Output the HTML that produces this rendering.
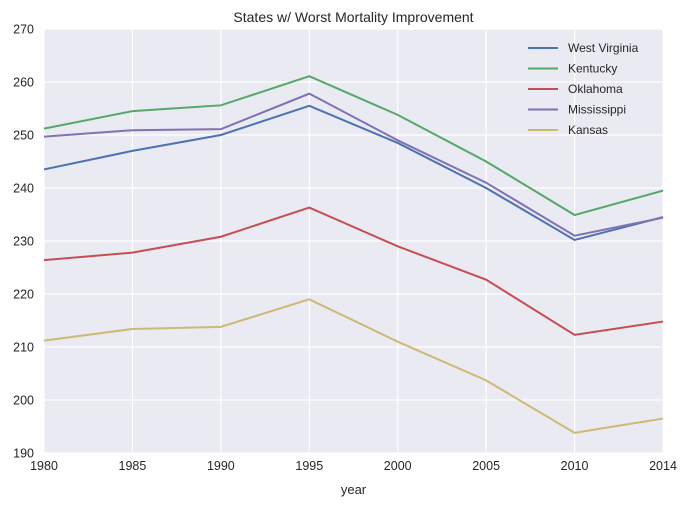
<!DOCTYPE html>
<html><head><meta charset="utf-8"><style>
body{margin:0;background:#fff;font-family:"Liberation Sans",Arial,sans-serif}
svg text{font-family:"Liberation Sans",Arial,sans-serif;fill:#262626}
</style></head><body>
<svg id="c" width="688" height="509"></svg>
<script>
const categories=["1980","1985","1990","1995","2000","2005","2010","2014"];
const westVirginia=[243.5,247,250,255.5,248.5,240,230.2,234.5];
const kentucky=[251.2,254.5,255.6,261.1,253.8,245,234.9,239.5];
const oklahoma=[226.4,227.8,230.8,236.3,229,222.7,212.3,214.8];
const mississippi=[249.7,250.9,251.1,257.8,249,241,231,234.4];
const kansas=[211.2,213.4,213.8,219,211,203.7,193.8,196.5];
const yTicks=[190,200,210,220,230,240,250,260,270];
const seriesNames=["West Virginia","Kentucky","Oklahoma","Mississippi","Kansas"];
const seriesData=[westVirginia,kentucky,oklahoma,mississippi,kansas];
const colors=["#4c72b0","#55a868","#c44e52","#8172b2","#ccb974"];
const L=44,R=663,T=29,B=453;
const x=i=>L+i*(R-L)/(categories.length-1);
const y=v=>B-(v-190)/(270-190)*(B-T);
const NS="http://www.w3.org/2000/svg";
const svg=document.getElementById('c');
function mk(t,a,p){const e=document.createElementNS(NS,t);for(const k in a)e.setAttribute(k,a[k]);(p||svg).appendChild(e);return e;}
const bg=mk('rect',{x:L,y:T,width:R-L,height:B-T,fill:'#eaeaf2'});


yTicks.forEach(v=>{
 const g=mk('line',{x1:L,x2:R,y1:y(v),y2:y(v),stroke:'#fff','stroke-width':1.2});
 
 
 const t=mk('text',{x:L-10,y:y(v)+4.5,'text-anchor':'end','font-size':12.5});
 t.textContent=v;
 
 
});
categories.forEach((c,i)=>{
 const g=mk('line',{x1:x(i),x2:x(i),y1:T,y2:B,stroke:'#fff','stroke-width':1.2});
 
 
 const t=mk('text',{x:x(i),y:B+17,'text-anchor':'middle','font-size':12.5});
 t.textContent=c;
 
 
});
seriesData.forEach((d,s)=>{
 const p=mk('polyline',{points:d.map((v,i)=>x(i)+','+y(v)).join(' '),fill:'none',stroke:colors[s],'stroke-width':2});
 
 
 const ly=48+s*20.5;
 const ll=mk('line',{x1:528,x2:558,y1:ly,y2:ly,stroke:colors[s],'stroke-width':2});
 
 
 const lt=mk('text',{x:568,y:ly+4,'font-size':12});
 lt.textContent=seriesNames[s];
 
 
});
const title=mk('text',{x:(L+R)/2,y:22,'text-anchor':'middle','font-size':14});
title.textContent="States w/ Worst Mortality Improvement";


const xl=mk('text',{x:(L+R)/2,y:B+41,'text-anchor':'middle','font-size':13});
xl.textContent="year";


</script>
</body></html>
